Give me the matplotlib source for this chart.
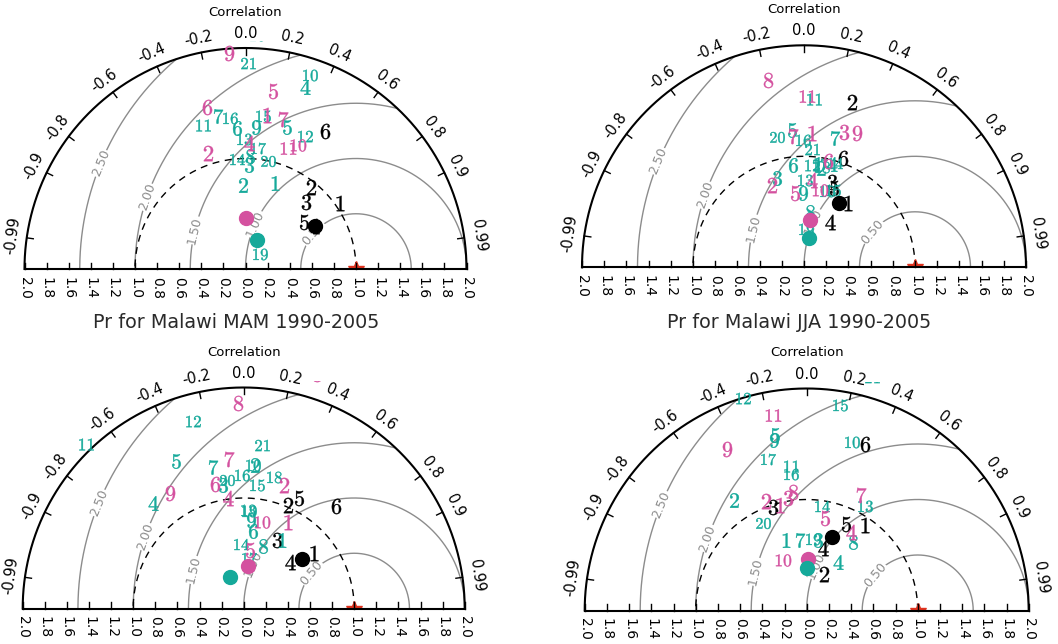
import numpy as np
import matplotlib
matplotlib.use('Agg')
import matplotlib.pyplot as plt

plt.rcParams['mathtext.fontset'] = 'cm'
plt.rcParams['font.family'] = ['DejaVu Sans']

W, H = 1058, 644
PINK = '#d4519f'
TEAL = '#15a99a'
GREY = '0.55'

# each entry: (model number, standard deviation, correlation)
MAM_BLACK = [(1, 1.04, 0.819), (2, 0.95, 0.623), (3, 0.82, 0.672), (4, 0.73, 0.847),
             (5, 0.68, 0.778), (6, 1.44, 0.501)]
MAM_PINK = [(1, 1.41, 0.136), (2, 1.10, -0.306), (4, 1.14, 0.030), (5, 1.63, 0.155),
            (6, 1.51, -0.233), (7, 1.40, 0.245), (9, 1.96, -0.075), (10, 1.22, 0.392),
            (11, 1.16, 0.334)]
MAM_TEAL = [(1, 0.82, 0.325), (2, 0.76, -0.033), (3, 0.94, 0.036), (4, 1.73, 0.311),
            (5, 1.34, 0.279), (6, 1.28, -0.063), (7, 1.41, -0.179), (8, 1.02, 0.040),
            (9, 1.29, 0.074), (10, 1.85, 0.316), (11, 1.36, -0.281), (12, 1.32, 0.408),
            (13, 1.18, -0.009), (14, 1.00, -0.074), (15, 1.39, 0.115), (16, 1.37, -0.102),
            (17, 1.10, 0.106), (18, 2.12, 0.050), (19, 0.19, 0.678), (20, 1.00, 0.206),
            (21, 1.86, 0.013)]
MAM_MEANS = [(0.74, 0.854), (0.46, 0.011), (0.28, 0.367)]

JJA_BLACK = [(1, 0.70, 0.569), (2, 1.55, 0.277), (3, 0.81, 0.307), (4, 0.47, 0.495),
             (5, 0.76, 0.355), (6, 1.05, 0.336)]
JJA_PINK = [(1, 1.21, 0.062), (2, 0.80, -0.362), (3, 1.27, 0.285), (4, 0.79, 0.087),
            (5, 0.67, -0.122), (6, 0.98, 0.224), (7, 1.19, -0.081), (8, 1.72, -0.187),
            (9, 1.30, 0.368), (10, 0.71, 0.203), (11, 1.54, 0.016)]
JJA_TEAL = [(1, 0.94, 0.138), (2, 0.91, 0.164), (3, 0.84, -0.293), (4, 0.96, 0.260),
            (5, 1.24, -0.089), (6, 0.93, -0.110), (7, 1.20, 0.232), (8, 0.50, 0.109),
            (9, 0.67, -0.018), (10, 0.72, 0.284), (11, 1.52, 0.059), (12, 0.92, 0.075),
            (13, 0.79, 0.011), (14, 0.98, 0.285), (15, 0.74, 0.353), (16, 1.15, -0.005),
            (17, 0.94, 0.149), (18, 0.92, 0.173), (19, 0.35, 0.051), (20, 1.20, -0.206),
            (21, 1.07, 0.064)]
JJA_MEANS = [(0.66, 0.483), (0.43, 0.126), (0.27, 0.181)]

P3_BLACK = [(1, 0.81, 0.788), (2, 1.02, 0.396), (3, 0.69, 0.434), (4, 0.59, 0.705),
            (5, 1.12, 0.450), (6, 1.25, 0.669)]
P3_PINK = [(1, 0.88, 0.457), (2, 1.18, 0.310), (3, 2.22, 0.297), (4, 1.01, -0.144),
           (5, 0.53, 0.107), (6, 1.16, -0.225), (7, 1.36, -0.096), (8, 1.86, -0.026),
           (9, 1.24, -0.537), (10, 0.80, 0.203)]
P3_TEAL = [(1, 0.71, 0.485), (2, 1.30, 0.077), (3, 1.13, -0.163), (4, 1.26, -0.654),
           (5, 1.47, -0.417), (6, 0.71, 0.123), (7, 1.31, -0.210), (8, 0.59, 0.302),
           (9, 0.80, 0.078), (10, 1.30, 0.067), (11, 2.06, -0.691), (12, 1.76, -0.259),
           (13, 0.89, 0.047), (14, 0.58, -0.042), (15, 1.12, 0.106), (16, 1.21, -0.011),
           (17, 0.46, 0.112), (18, 1.22, 0.225), (19, 0.88, 0.057), (20, 1.17, -0.131),
           (21, 1.49, 0.113)]
P3_MEANS = [(0.69, 0.763), (0.39, 0.108), (0.31, -0.396)]

P4_BLACK = [(1, 0.93, 0.563), (2, 0.36, 0.429), (3, 0.98, -0.306), (4, 0.58, 0.249),
            (5, 0.86, 0.414), (6, 1.59, 0.330)]
P4_PINK = [(1, 0.98, -0.245), (2, 1.05, -0.348), (3, 1.03, -0.167), (4, 0.81, 0.492),
           (5, 0.85, 0.195), (7, 1.15, 0.429), (8, 1.07, -0.112), (9, 1.62, -0.445),
           (10, 0.50, -0.433), (11, 1.79, -0.171)]
P4_TEAL = [(1, 0.66, -0.281), (2, 1.19, -0.550), (3, 0.64, 0.157), (4, 0.52, 0.544),
           (5, 1.61, -0.178), (7, 0.64, -0.094), (8, 0.75, 0.561), (9, 1.56, -0.189),
           (10, 1.57, 0.259), (11, 1.31, -0.110), (12, 2.00, -0.289), (13, 1.08, 0.487),
           (14, 0.95, 0.142), (15, 1.88, 0.160), (16, 1.24, -0.117), (17, 1.41, -0.245),
           (19, 0.65, 0.092), (20, 0.88, -0.446), (21, 2.18, 0.269)]
P4_MEANS = [(0.70, 0.332), (0.46, 0.033), (0.38, 0.000)]

CORR_TICKS = [-0.99, -0.9, -0.8, -0.6, -0.4, -0.2, 0.0, 0.2, 0.4, 0.6, 0.8, 0.9, 0.99]
STD_TICKS = np.round(np.arange(-2.0, 2.01, 0.2), 1)
RMS_LEVELS = [0.5, 1.0, 1.5, 2.0, 2.5]
RMS_LABEL_ANGLE = {0.5: 140, 1.0: 156, 1.5: 166.5, 2.0: 161, 2.5: 157.5}


def to_xy(sd, r):
    sd = np.asarray(sd, dtype=float)
    r = np.asarray(r, dtype=float)
    return sd * r, sd * np.sqrt(1 - r ** 2)


def draw_frame(ax):
    th = np.linspace(0, np.pi, 500)
    ax.plot(2 * np.cos(th), 2 * np.sin(th), color='k', lw=1.5, clip_on=False, zorder=4)
    ax.plot([-2, 2], [0, 0], color='k', lw=1.5, clip_on=False, zorder=4)

    for v in STD_TICKS:
        ax.plot([v, v], [0, 0.055], color='k', lw=1, clip_on=False, zorder=4)
        ax.text(v, -0.07, '%.1f' % abs(v), rotation=-90, ha='center', va='top',
                fontsize=10, clip_on=False)

    for c in CORR_TICKS:
        t = np.arccos(c)
        ax.plot([1.94 * np.cos(t), 2 * np.cos(t)], [1.94 * np.sin(t), 2 * np.sin(t)],
                color='k', lw=1, clip_on=False, zorder=4)
        lab = '0.0' if c == 0 else ('%g' % c)
        ax.text(2.13 * np.cos(t), 2.13 * np.sin(t), lab, rotation=np.degrees(t) - 90,
                rotation_mode='anchor', ha='center', va='center', fontsize=10.5,
                clip_on=False)
    ax.text(0, 2.32, 'Correlation', ha='center', va='center', fontsize=9.5, clip_on=False)

    # reference std circle
    ax.plot(np.cos(th), np.sin(th), color='k', lw=1, dashes=(5, 4), clip_on=False, zorder=2)

    # centred RMS difference arcs around the reference point
    phi = np.linspace(0, np.pi, 800)
    for R in RMS_LEVELS:
        x = 1 + R * np.cos(phi)
        y = R * np.sin(phi)
        inside = x ** 2 + y ** 2 <= 4.0
        ax.plot(np.where(inside, x, np.nan), np.where(inside, y, np.nan),
                color=GREY, lw=1, clip_on=False, zorder=1)
        a = np.radians(RMS_LABEL_ANGLE[R])
        ax.text(1 + R * np.cos(a), R * np.sin(a), '%.2f' % R,
                rotation=RMS_LABEL_ANGLE[R] - 90, rotation_mode='anchor',
                ha='center', va='center', fontsize=9, color=GREY, zorder=1.5,
                bbox=dict(facecolor='white', edgecolor='none', pad=0.3))

    ax.plot(1, 0, marker='*', color='#e0321e', ms=12, ls='none', zorder=3)


def draw_models(ax, pts, color, ms, z):
    for num, sd, r in pts:
        x, y = to_xy(sd, r)
        ax.plot(x, y, marker='$%d$' % num, color=color, ms=ms, mew=0.3,
                ls='none', zorder=z)


fig = plt.figure(figsize=(W / 100, H / 100), dpi=100)

panels = [
    ('Pr for Malawi MAM 1990-2005', 245.5, 269.0, 110.5, MAM_BLACK, MAM_PINK, MAM_TEAL, MAM_MEANS, 236),
    ('Pr for Malawi JJA 1990-2005', 804.0, 267.3, 111.0, JJA_BLACK, JJA_PINK, JJA_TEAL, JJA_MEANS, 799),
    (None, 243.7, 608.5, 110.5, P3_BLACK, P3_PINK, P3_TEAL, P3_MEANS, None),
    (None, 806.7, 610.5, 111.0, P4_BLACK, P4_PINK, P4_TEAL, P4_MEANS, None),
]

for title, cx, by, s, blk, pnk, tel, means, tx in panels:
    ax = fig.add_axes([(cx - 2 * s) / W, (H - by) / H, 4 * s / W, 2.06 * s / H])
    ax.set_xlim(-2, 2)
    ax.set_ylim(0, 2.06)
    ax.axis('off')
    draw_frame(ax)
    draw_models(ax, blk, 'k', 11, 5)
    draw_models(ax, tel, TEAL, 10.5, 6)
    draw_models(ax, pnk, PINK, 11, 7)
    for (sd, r), col in zip(means, ['k', PINK, TEAL]):
        x, y = to_xy(sd, r)
        ax.plot(x, y, 'o', color=col, ms=10, zorder=8)
    if title:
        fig.text(tx / W, 1 - 322 / H, title, ha='center', va='center',
                 fontsize=13.8, color='#2a2a2a')

fig.savefig('out.png', dpi=100)
